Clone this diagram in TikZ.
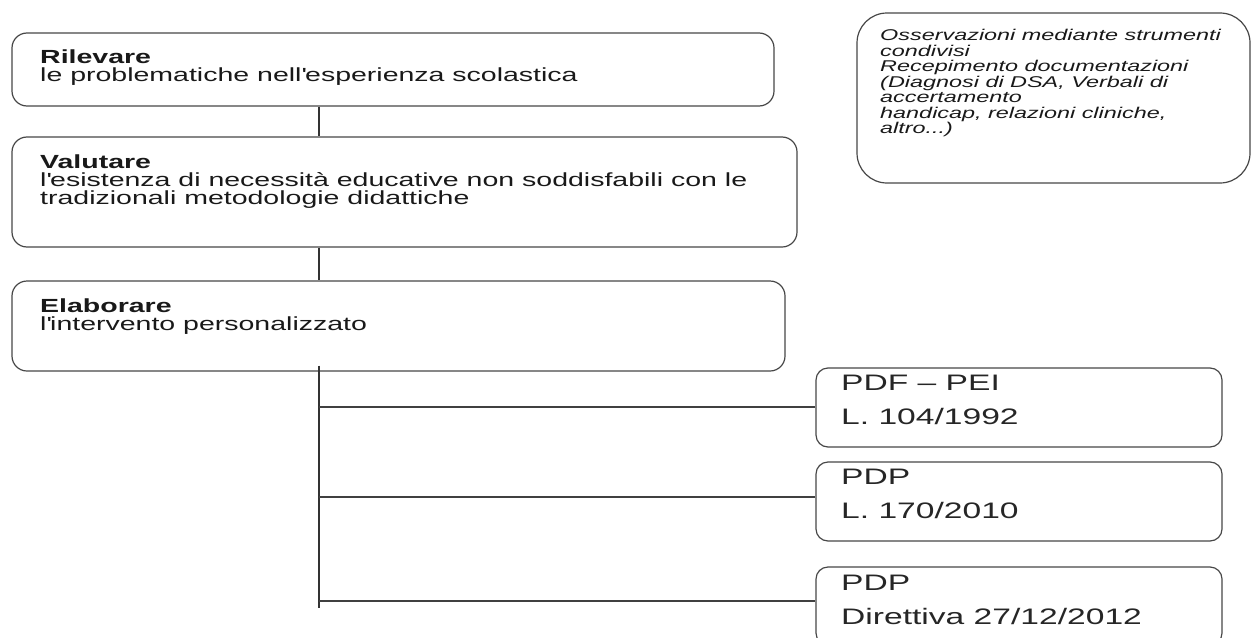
\documentclass[tikz,border=0pt]{standalone}
\usepackage{fontspec}
\setmainfont{Liberation Sans}[FakeStretch=1.5]
\newcommand{\ap}{\textquotesingle}
\newcommand{\leftfont}{\fontsize{19}{18}\selectfont\lineskiplimit=-30pt\color{black!90}}
\newcommand{\obsfont}{\fontsize{15.6}{15.5}\selectfont\itshape\lineskiplimit=-30pt\color{black!90}}
\newcommand{\rightfont}{\fontsize{22.4}{34}\selectfont\lineskiplimit=-30pt\color{black!85}}
\begin{document}
\begin{tikzpicture}[x=1pt,y=-1pt,
  box/.style={draw=black!72, line width=1.2pt, rounded corners=15pt, inner sep=0pt},
  lbl/.style={anchor=north west, inner sep=0pt, align=left},
  link/.style={draw=black!80, line width=1.4pt},
  branch/.style={draw=black!75, line width=1.1pt}]
\useasboundingbox (0,0) rectangle (1252,637);
\clip (0,0) rectangle (1252,637);
% boxes
\node[box, minimum width=762pt, minimum height=73pt] (b1) at (393,69.5) {};
\node[box, minimum width=785pt, minimum height=110pt] (b2) at (404.5,192) {};
\node[box, minimum width=773pt, minimum height=90pt] (b3) at (398.5,326) {};
\node[box, rounded corners=30pt, minimum width=393pt, minimum height=170pt] (obs) at (1053.5,98) {};
\node[box, rounded corners=12pt, minimum width=406pt, minimum height=79pt] (r1) at (1019,407.5) {};
\node[box, rounded corners=12pt, minimum width=406pt, minimum height=79pt] (r2) at (1019,501.5) {};
\node[box, rounded corners=12pt, minimum width=406pt, minimum height=78pt] (r3) at (1019,606) {};
% texts
\node[lbl, font=\leftfont] (t1) at (40,50) {\textbf{Rilevare}\\le problematiche nell\ap esperienza scolastica};
\node[lbl, font=\leftfont] (t2) at (40,155) {\textbf{Valutare}\\l\ap esistenza di necessità educative non soddisfabili con le\\tradizionali metodologie didattiche};
\node[lbl, font=\leftfont] (t3) at (40,299) {\textbf{Elaborare}\\l\ap intervento personalizzato};
\node[lbl, font=\obsfont] (t4) at (880,29) {Osservazioni mediante strumenti\\condivisi\\Recepimento documentazioni\\(Diagnosi di DSA, Verbali di\\accertamento\\handicap, relazioni cliniche,\\altro...)};
\node[lbl, font=\rightfont] (t5) at (841,375) {PDF -- PEI\\L. 104/1992};
\node[lbl, font=\rightfont] (t6) at (841,469) {PDP\\L. 170/2010};
\node[lbl, font=\rightfont] (t7) at (841,575) {PDP\\Direttiva 27/12/2012};
% connectors
\coordinate (sx) at (319,0);
\coordinate (bot) at (319,608);
\coordinate (j1) at (319,407);
\coordinate (j2) at (319,497);
\coordinate (j3) at (319,601);
\draw[link] (b1.south -| sx) -- (b2.north -| sx);
\draw[link] (b2.south -| sx) -- (b3.north -| sx);
\draw[link] (b3.south -| sx) ++(0,-6) -- (bot);
\draw[branch] (j1) -- (j1 -| r1.west);
\draw[branch] (j2) -- (j2 -| r2.west);
\draw[branch] (j3) -- (j3 -| r3.west);
\end{tikzpicture}
\end{document}
